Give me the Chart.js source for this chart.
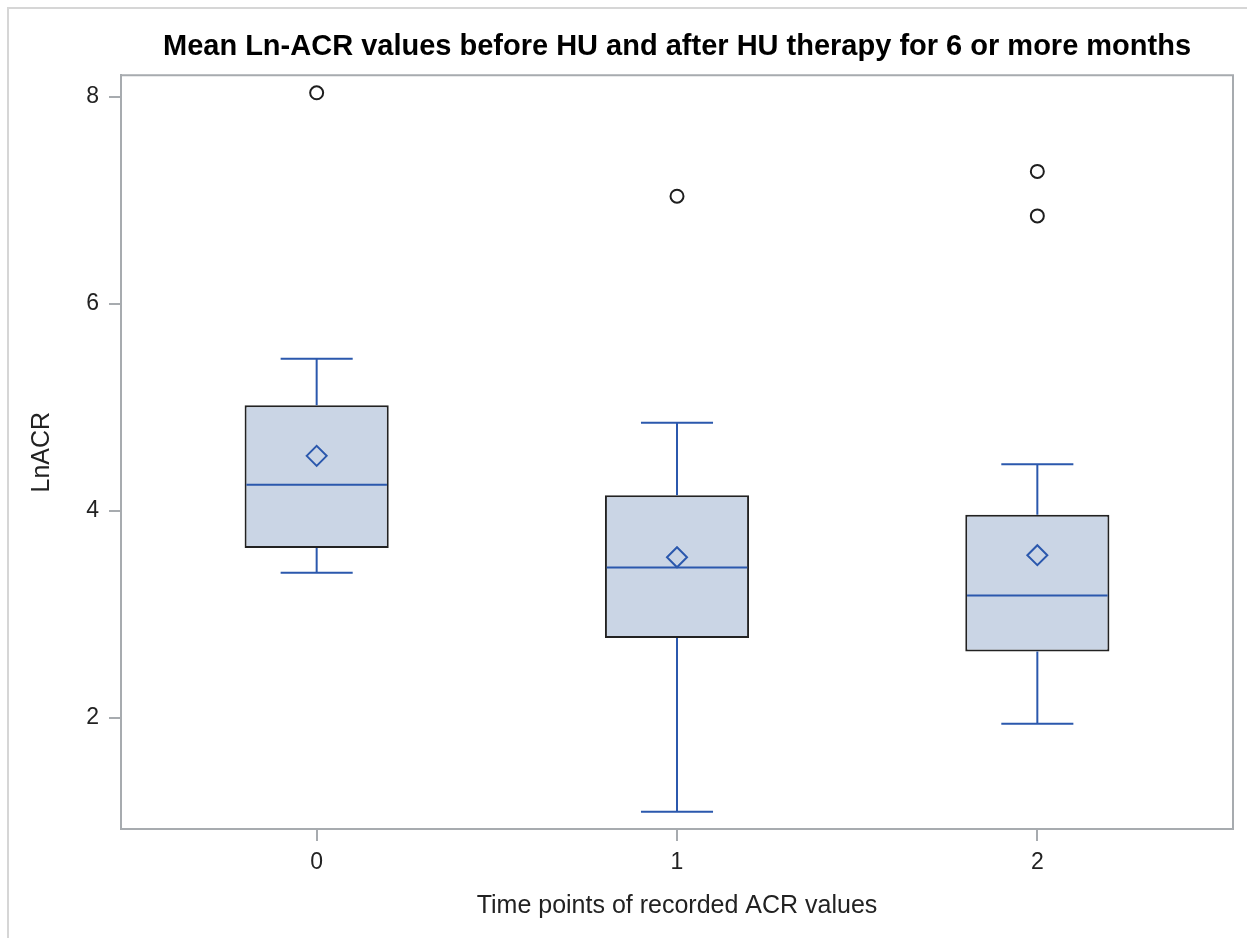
<!DOCTYPE html>
<html><head><meta charset="utf-8">
<script src="https://cdn.jsdelivr.net/npm/chart.js@4.4.1/dist/chart.umd.min.js"></script>
<style>
html,body{margin:0;padding:0;background:#fff;}
#wrap{position:relative;width:1247px;height:938px;overflow:hidden;}
#c{display:block;}
#frame{position:absolute;left:7px;top:7px;width:1260px;height:960px;border-left:2px solid #d6d6d6;border-top:2px solid #d6d6d6;pointer-events:none;}
</style></head><body>
<div id="wrap"><canvas id="c" width="1247" height="938"></canvas><div id="frame"></div></div>
<script>
// ---- data ----
const categories = [0, 1, 2];
const whiskerLow = [3.40, 1.09, 1.94];
const q1 = [3.64, 2.77, 2.64];
const median = [4.25, 3.45, 3.18];
const mean = [4.53, 3.55, 3.57];
const q3 = [5.02, 4.15, 3.96];
const whiskerHigh = [5.47, 4.85, 4.45];
const outlierX = [0, 1, 2, 2];
const outlierY = [8.04, 7.04, 7.28, 6.85];
const xTickValues = [0, 1, 2];
const yTickValues = [2, 4, 6, 8];
const titleText = 'Mean Ln-ACR values before HU and after HU therapy for 6 or more months';
const xTitle = 'Time points of recorded ACR values';
const yTitle = 'LnACR';

// ---- styles ----
const FONT = "'Liberation Sans', Arial, sans-serif";
const BLUE = '#2b58ad';
const BOXFILL = '#cad5e5';
const BOXLINE = '#222222';
const AXIS = '#a7abaf';
const capHalf = 0.1, medHalf = 0.195;

const boxData = categories.map((c, i) => ({x: c, y: [q1[i], q3[i]]}));
const whiskerData = [];
categories.forEach((c, i) => {
  whiskerData.push(
    {x: c, y: q3[i]}, {x: c, y: whiskerHigh[i]}, {x: c, y: null},
    {x: c - capHalf, y: whiskerHigh[i]}, {x: c + capHalf, y: whiskerHigh[i]}, {x: c, y: null},
    {x: c, y: q1[i]}, {x: c, y: whiskerLow[i]}, {x: c, y: null},
    {x: c - capHalf, y: whiskerLow[i]}, {x: c + capHalf, y: whiskerLow[i]}, {x: c, y: null}
  );
});
const medianData = [];
categories.forEach((c, i) => {
  medianData.push({x: c - medHalf, y: median[i]}, {x: c + medHalf, y: median[i]}, {x: c, y: null});
});
const meanData = categories.map((c, i) => ({x: c, y: mean[i]}));
const outlierData = outlierX.map((x, i) => ({x: x, y: outlierY[i]}));

const framePlugin = {
  id: 'frame',
  beforeDatasetsDraw(chart) {
    const {ctx, chartArea: a} = chart;
    ctx.save();
    ctx.strokeStyle = AXIS;
    ctx.lineWidth = 2;
    ctx.beginPath();
    ctx.moveTo(a.left, a.top); ctx.lineTo(a.right, a.top); ctx.lineTo(a.right, a.bottom);
    ctx.stroke();
    ctx.restore();
  }
};

new Chart(document.getElementById('c'), {
  type: 'bar',
  data: {
    datasets: [
      {type: 'bar', data: boxData, backgroundColor: BOXFILL, borderColor: BOXLINE, borderWidth: 2,
       borderSkipped: false, categoryPercentage: 1.0, barPercentage: 0.4, order: 5},
      {type: 'line', data: whiskerData, borderColor: BLUE, borderWidth: 2, pointRadius: 0,
       spanGaps: false, tension: 0, fill: false, order: 2},
      {type: 'line', data: medianData, borderColor: BLUE, borderWidth: 2, pointRadius: 0,
       spanGaps: false, tension: 0, fill: false, order: 2},
      {type: 'scatter', data: meanData, pointStyle: 'rectRot', pointRadius: 10, borderColor: BLUE,
       borderWidth: 2, backgroundColor: 'rgba(0,0,0,0)', order: 1},
      {type: 'scatter', data: outlierData, pointStyle: 'circle', pointRadius: 6.5, borderColor: '#1e1e1e',
       borderWidth: 2, backgroundColor: 'rgba(0,0,0,0)', order: 1}
    ]
  },
  options: {
    responsive: false,
    animation: false,
    events: [],
    layout: {padding: {left: 0, right: 14, top: 0, bottom: 0}},
    plugins: {
      legend: {display: false},
      tooltip: {enabled: false},
      title: {display: false}
    },
    scales: {
      x: {
        type: 'linear', min: -0.543, max: 2.543, offset: false, bounds: 'data',
        afterBuildTicks: s => { s.ticks = xTickValues.map(v => ({value: v})); },
        afterFit: s => { s.height = 109; },
        ticks: {stepSize: 1, includeBounds: false, color: '#222', padding: 8,
                font: {family: FONT, size: 23}},
        grid: {display: true, offset: false, drawOnChartArea: false, drawTicks: true, tickLength: 12, color: AXIS, lineWidth: 2},
        border: {display: true, color: AXIS, width: 2},
        title: {display: true, text: xTitle, color: '#222', font: {family: FONT, size: 25},
                padding: {top: 0, bottom: 16.7}}
      },
      xTop: {
        type: 'linear', position: 'top', min: -0.543, max: 2.543, offset: false,
        afterFit: s => { s.height = 75.3; },
        ticks: {display: false},
        grid: {display: false, drawTicks: false, offset: false},
        border: {display: false},
        title: {display: true, text: titleText, color: '#000',
                font: {family: FONT, size: 29, weight: 'bold'}, padding: {top: 30, bottom: 10.5}}
      },
      y: {
        type: 'linear', min: 0.923, max: 8.209, bounds: 'data',
        afterBuildTicks: s => { s.ticks = yTickValues.map(v => ({value: v})); },
        afterFit: s => { s.width = 121; },
        ticks: {stepSize: 2, includeBounds: false, color: '#222', padding: 10,
                font: {family: FONT, size: 23}},
        grid: {display: true, drawOnChartArea: false, drawTicks: true, tickLength: 12, color: AXIS, lineWidth: 2},
        border: {display: true, color: AXIS, width: 2},
        title: {display: true, text: yTitle, color: '#222', font: {family: FONT, size: 25},
                padding: {top: 27, bottom: 0}}
      }
    }
  },
  plugins: [framePlugin]
});
</script>
</body></html>
